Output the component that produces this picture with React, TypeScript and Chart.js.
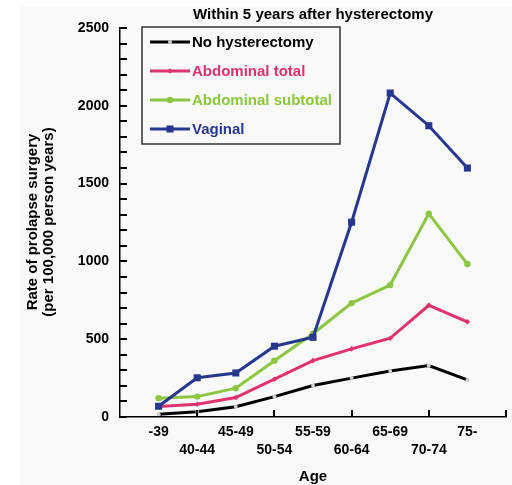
import React, { useEffect, useRef } from 'react';
import { Chart, registerables } from 'chart.js';

Chart.register(...registerables);

const categories = ['-39', '40-44', '45-49', '50-54', '55-59', '60-64', '65-69', '70-74', '75-'];
const noHysterectomy = [18, 34, 66, 131, 202, 250, 296, 331, 238];
const abdominalTotal = [67, 82, 125, 243, 362, 438, 506, 718, 612];
const abdominalSubtotal = [121, 131, 185, 362, 535, 732, 848, 1307, 983];
const vaginal = [69, 252, 283, 455, 512, 1252, 2082, 1872, 1600];
const seriesNames = ['No hysterectomy', 'Abdominal total', 'Abdominal subtotal', 'Vaginal'];
const yMax = 2500;
const yStep = 500;
const yMinorStep = 100;

const FONT = "'Liberation Sans', Arial, sans-serif";

const colors = ['#000000', '#e0336b', '#8dc641', '#27378f'];
const pointStyles = ['circle', 'rectRot', 'circle', 'rect'];
const pointRadii = [2, 2.8, 3.2, 5];
const pointFills = ['#cfcfcf', '#e0336b', '#8dc641', '#27378f'];

function drawMarker(ctx: CanvasRenderingContext2D, i: number, x: number, y: number) {
  const r = pointRadii[i];
  ctx.save();
  ctx.fillStyle = pointFills[i];
  ctx.beginPath();
  if (pointStyles[i] === 'circle') {
    ctx.arc(x, y, r, 0, Math.PI * 2);
  } else if (pointStyles[i] === 'rect') {
    const s = r * Math.SQRT1_2;
    ctx.rect(x - s, y - s, 2 * s, 2 * s);
  } else {
    ctx.moveTo(x, y - r);
    ctx.lineTo(x + r, y);
    ctx.lineTo(x, y + r);
    ctx.lineTo(x - r, y);
    ctx.closePath();
  }
  ctx.fill();
  ctx.restore();
}

const decorPlugin = {
  id: 'decor',
  beforeDraw(chart: any) {
    const { ctx } = chart;
    ctx.save();
    ctx.fillStyle = '#f9f9f9';
    ctx.fillRect(20, 6, chart.width - 20, chart.height - 6);
    ctx.restore();
  },
  afterDraw(chart: any) {
    const { ctx, chartArea, scales } = chart;
    const xs = scales.x;
    const ys = scales.y;
    const left = chartArea.left;
    const bottom = chartArea.bottom;

    ctx.save();
    // title
    ctx.fillStyle = '#000';
    ctx.font = `bold 15px ${FONT}`;
    ctx.textAlign = 'center';
    ctx.textBaseline = 'middle';
    ctx.fillText('Within 5 years after hysterectomy', (chartArea.left + chartArea.right) / 2, 15);

    // x title
    ctx.fillText('Age', (chartArea.left + chartArea.right) / 2, 477);

    // y title
    ctx.save();
    ctx.translate(33, 222);
    ctx.rotate(-Math.PI / 2);
    ctx.fillText('Rate of prolapse surgery', 0, 0);
    ctx.fillText('(per 100,000 person years)', 0, 16);
    ctx.restore();

    // inner tick marks
    ctx.fillStyle = '#000';
    for (let v = 0; v <= yMax; v += yMinorStep) {
      const py = Math.round(ys.getPixelForValue(v));
      ctx.fillRect(left, py - 1, 7, 2);
    }
    for (let v = 2; v <= categories.length + 1; v += 2) {
      const px = Math.round(xs.getPixelForValue(v));
      ctx.fillRect(px - 1, bottom - 7, 2, 7);
    }

    // legend
    ctx.fillStyle = '#f9f9f9';
    ctx.fillRect(142, 27, 198, 117);
    ctx.strokeStyle = '#333';
    ctx.lineWidth = 1.5;
    ctx.strokeRect(142, 27, 198, 117);
    const rows = [42, 71, 100, 129];
    seriesNames.forEach((name, i) => {
      const y = rows[i];
      ctx.strokeStyle = colors[i];
      ctx.lineWidth = 3;
      ctx.beginPath();
      ctx.moveTo(150, y);
      ctx.lineTo(190, y);
      ctx.stroke();
      drawMarker(ctx, i, 170, y);
      ctx.fillStyle = colors[i];
      ctx.font = `bold 15px ${FONT}`;
      ctx.textAlign = 'left';
      ctx.textBaseline = 'middle';
      ctx.fillText(name, 192, y + 1);
    });
    ctx.restore();
  },
};

export default function App() {
  const ref = useRef<HTMLCanvasElement | null>(null);

  useEffect(() => {
    if (!ref.current) return;
    const series = [noHysterectomy, abdominalTotal, abdominalSubtotal, vaginal];
    const orders = [0, 3, 2, 1];
    const chart = new Chart(ref.current, {
      type: 'line',
      data: {
        datasets: series.map((vals, i) => ({
          label: seriesNames[i],
          data: vals.map((v, k) => ({ x: k + 1, y: v })),
          borderColor: colors[i],
          backgroundColor: pointFills[i],
          borderWidth: 3,
          pointStyle: pointStyles[i] as any,
          pointRadius: pointRadii[i],
          pointBorderWidth: 0,
          pointBackgroundColor: pointFills[i],
          tension: 0,
          fill: false,
          order: orders[i],
        })),
      },
      options: {
        animation: false,
        responsive: false,
        devicePixelRatio: 1,
        layout: { padding: { top: 28, right: 3, left: 0, bottom: 0 } },
        plugins: {
          legend: { display: false },
          tooltip: { enabled: false },
          title: { display: false },
        },
        scales: {
          x: {
            type: 'linear',
            min: 0,
            max: categories.length + 1,
            grid: { display: false, drawTicks: false },
            border: { display: true, color: '#000', width: 1.5 },
            afterBuildTicks: (scale: any) => {
              scale.ticks = Array.from({ length: categories.length + 1 }, (_, k) => ({ value: k + 1 }));
            },
            afterFit: (scale: any) => {
              scale.height = 68;
            },
            ticks: {
              autoSkip: false,
              maxRotation: 0,
              minRotation: 0,
              padding: 6,
              color: '#000',
              font: { family: FONT, size: 14, weight: 'bold', lineHeight: 1.3 },
              callback: (value: any) => {
                const i = Number(value) - 1;
                if (i < 0 || i >= categories.length) return '';
                return i % 2 === 0 ? categories[i] : ['', categories[i]];
              },
            },
          },
          y: {
            min: 0,
            max: yMax,
            grid: { display: false, drawTicks: false },
            border: { display: true, color: '#000', width: 1.5 },
            afterFit: (scale: any) => {
              scale.width = 120;
            },
            ticks: {
              stepSize: yStep,
              padding: 11,
              color: '#000',
              font: { family: FONT, size: 14, weight: 'bold' },
              callback: (value: any) => String(value),
            },
          },
        },
      },
      plugins: [decorPlugin],
    } as any);
    return () => chart.destroy();
  }, []);

  return (
    <div style={{ position: 'fixed', left: 0, top: 0, width: 512, height: 485, background: '#fff' }}>
      <canvas ref={ref} width={512} height={485} style={{ display: 'block' }} />
    </div>
  );
}
